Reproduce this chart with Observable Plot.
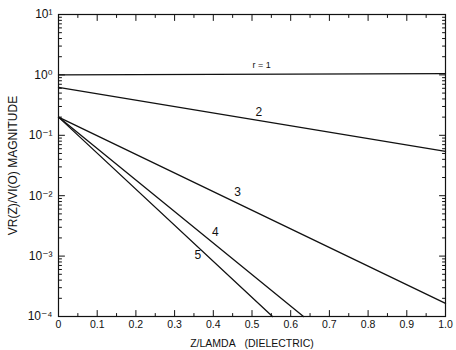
<!DOCTYPE html>
<html>
<head>
<meta charset="utf-8">
<script src="https://cdn.jsdelivr.net/npm/d3@7"></script>
<script src="https://cdn.jsdelivr.net/npm/@observablehq/plot@0.6"></script>
<style>
  body { margin: 0; background: #fff; }
  svg { font-family: "Liberation Sans", "DejaVu Sans", sans-serif; }
</style>
</head>
<body>
<div id="chart"></div>
<script>
// Series (x = Z/lambda, y = |VR(Z)/VI(0)|)
const r1X = [0, 1.0];
const r1Y = [1.0, 1.05];
const r2X = [0, 1.0];
const r2Y = [0.62, 0.054];
const r3X = [0, 1.0];
const r3Y = [0.2, 1.65e-4];
const r4X = [0, 0.633];
const r4Y = [0.2, 1e-4];
const r5X = [0, 0.553];
const r5Y = [0.2, 1e-4];

// Curve labels
const labelText = ["r = 1", "2", "3", "4", "5"];
const labelX = [0.525, 0.518, 0.463, 0.405, 0.36];
const labelY = [1.45, 0.24, 0.0115, 0.0025, 0.00105];
const labelSize = [9, 12, 12, 12, 12];

// Ticks
const xMajor = [0, 0.1, 0.2, 0.3, 0.4, 0.5, 0.6, 0.7, 0.8, 0.9, 1.0];
const xMinor = [0.05, 0.15, 0.25, 0.35, 0.45, 0.55, 0.65, 0.75, 0.85, 0.95];
const xTickLabels = ["0", "0.1", "0.2", "0.3", "0.4", "0.5", "0.6", "0.7", "0.8", "0.9", "1.0"];
const yMajor = [1e-4, 1e-3, 1e-2, 1e-1, 1e0, 1e1];
const yTickLabels = ["10\u207B\u2074", "10\u207B\u00B3", "10\u207B\u00B2", "10\u207B\u00B9", "10\u2070", "10\u00B9"];
const yMinor = [];
for (let e = -4; e < 1; e++) for (let m = 2; m <= 9; m++) yMinor.push(m * Math.pow(10, e));

const series = [
  [r1X, r1Y], [r2X, r2Y], [r3X, r3Y], [r4X, r4Y], [r5X, r5Y]
];
const lines = series.map(([xs, ys], k) => xs.map((x, i) => ({x, y: ys[i], r: k + 1})));
const labels = labelText.map((t, i) => ({t, x: labelX[i], y: labelY[i], s: labelSize[i]}));

const yFmt = d => yTickLabels[yMajor.findIndex(v => Math.abs(Math.log10(v) - Math.log10(d)) < 1e-6)] ?? "";
const xFmt = d => xTickLabels[xMajor.findIndex(v => Math.abs(v - d) < 1e-9)] ?? "";

// a plain straight stroke used for inward tick marks
const stick = {draw(context, l) { context.moveTo(0, 0); context.lineTo(0, -l); }};
const tickStyle = {shape: stick, anchor: "start", stroke: "#111", strokeWidth: 1};

const chart = Plot.plot({
  width: 456,
  height: 350,
  marginLeft: 58,
  marginRight: 11,
  marginTop: 14,
  marginBottom: 34,
  style: {fontFamily: "Liberation Sans, DejaVu Sans, sans-serif", background: "#fff", color: "#111"},
  x: {domain: [0, 1.0]},
  y: {type: "log", domain: [1e-4, 1e1]},
  marks: [
    Plot.frame({stroke: "#111", strokeWidth: 1.2}),
    Plot.axisX({anchor: "bottom", ticks: xMajor, tickSize: 0, tickPadding: 4, tickFormat: xFmt, fontSize: 10.5,
      label: "Z/LAMDA\u00A0\u00A0\u00A0(DIELECTRIC)", labelAnchor: "center", labelOffset: 30, labelArrow: "none"}),
    Plot.axisY({anchor: "left", ticks: yMajor, tickSize: 0, tickPadding: 6, tickFormat: yFmt, fontSize: 12,
      label: "VR(Z)/VI(O) MAGNITUDE", labelAnchor: "center", labelOffset: 50, labelArrow: "none"}),
    // inward ticks: bottom & top
    Plot.vector(xMajor, {x: d => d, frameAnchor: "bottom", length: 6, rotate: 0, ...tickStyle}),
    Plot.vector(xMinor, {x: d => d, frameAnchor: "bottom", length: 3, rotate: 0, ...tickStyle}),
    Plot.vector(xMajor, {x: d => d, frameAnchor: "top", length: 6, rotate: 180, ...tickStyle}),
    Plot.vector(xMinor, {x: d => d, frameAnchor: "top", length: 3, rotate: 180, ...tickStyle}),
    // inward ticks: left & right
    Plot.vector(yMajor, {y: d => d, frameAnchor: "left", length: 6, rotate: 90, ...tickStyle}),
    Plot.vector(yMinor, {y: d => d, frameAnchor: "left", length: 3, rotate: 90, ...tickStyle}),
    Plot.vector(yMajor, {y: d => d, frameAnchor: "right", length: 6, rotate: -90, ...tickStyle}),
    Plot.vector(yMinor, {y: d => d, frameAnchor: "right", length: 3, rotate: -90, ...tickStyle}),
    ...lines.map(d => Plot.line(d, {x: "x", y: "y", stroke: "#111", strokeWidth: 1.3})),
    Plot.text(labels, {x: "x", y: "y", text: "t", fontSize: "s", fill: "#111"})
  ]
});
document.getElementById("chart").appendChild(chart);
</script>
</body>
</html>
